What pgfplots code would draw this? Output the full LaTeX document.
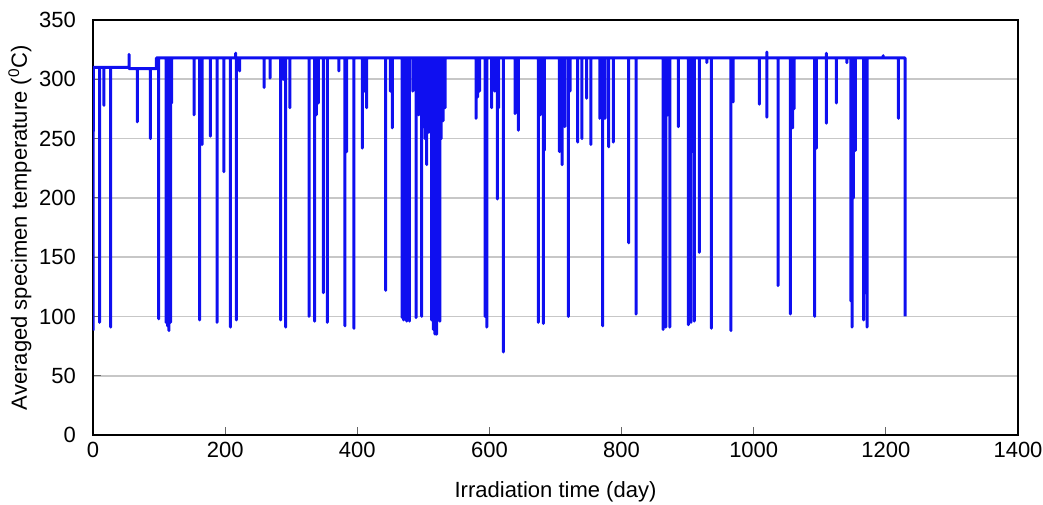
\documentclass[border=0pt]{standalone}
\usepackage{pgfplots}
\pgfplotsset{compat=1.18}
\usepackage{fontspec}
\setmainfont{Liberation Sans}
\definecolor{lineblue}{RGB}{15,15,240}
\begin{document}
\begin{tikzpicture}
\begin{axis}[
  at={(0,0)}, anchor=south west,
  scale only axis, width=462.5pt, height=207.5pt,
  xmin=0, xmax=1400, ymin=0, ymax=350,
  xtick={0,200,...,1400}, ytick={0,50,...,350},
  tick pos=left,
  major tick length=4pt,
  ymajorgrids,
  major grid style={line width=0.8pt, color=black!22},
  axis line style={line width=1.3pt},
  tick style={line width=0.5pt, black!60},
  /pgf/number format/assume math mode=true,
  /pgf/number format/1000 sep={},
  ticklabel style={font=\fontsize{11}{13}\selectfont},
  yticklabel style={xshift=-5pt},
  label style={font=\fontsize{11}{13}\selectfont},
  xlabel={Irradiation time (day)},
  ylabel={Averaged specimen temperature (\textsuperscript{0}C)},
  xlabel style={at={(axis description cs:0.5,0)}, anchor=center, yshift=-28.5pt},
  ylabel style={at={(axis description cs:-0.079,0.5)}, anchor=center, rotate=0},
  clip=true,
]
\addplot[lineblue, line width=1.5pt, line join=round, mark=none] coordinates {
(0,88)(0.5,310)
(10,310)(10,95)(10,310)
(16.6,310)(16.6,278)(16.6,310)
(26.8,310)(26.8,91)(26.8,310)
(54.5,310)(54.5,321)(54.5,309)
(67,309)(67,264)(67,309)
(87,309)(87,250)(87,309)
(96,309)(96,318)
(99.5,318)(99.5,98)(99.5,318)
(110.5,318)(110.5,95)(110.5,318)
(112,318)(112,200)(112,318)
(113,318)(113,92)(113,318)
(115,318)(115,88)(115,318)
(116,318)(116,150)(116,318)
(117.5,318)(117.5,95)(117.5,318)
(119,318)(119,280)(119,318)
(153,318)(153,270)(153,318)
(161.5,318)(161.5,97)(161.5,318)
(165,318)(165,245)(165,318)
(177.6,318)(177.6,252)(177.6,318)
(187.7,318)(187.7,95)(187.7,318)
(198,318)(198,222)(198,318)
(208,318)(208,91)(208,318)
(216,318)(216,322)(216,318)
(217,318)(217,97)(217,318)
(222,318)(222,307)(222,318)
(259,318)(259,293)(259,318)
(268,318)(268,301)(268,318)
(284,318)(284,97)(284,318)
(288,318)(288,300)(288,318)
(291.6,318)(291.6,91)(291.6,318)
(298,318)(298,276)(298,318)
(327,318)(327,100)(327,318)
(335.5,318)(335.5,96)(335.5,318)
(338,318)(338,270)(338,318)
(341,318)(341,280)(341,318)
(348.6,318)(348.6,120)(348.6,318)
(354.6,318)(354.6,95)(354.6,318)
(372,318)(372,307)(372,318)
(381.4,318)(381.4,92)(381.4,318)
(384,318)(384,239)(384,318)
(395,318)(395,90)(395,318)
(407.6,318)(407.6,242)(407.6,318)
(411,318)(411,290)(411,318)
(414,318)(414,276)(414,318)
(443,318)(443,122)(443,318)
(450,318)(450,290)(450,318)
(453,318)(453,259)(453,318)
(468,318)(468,99)(468,318)
(470,318)(470,97)(470,318)
(474.8,318)(474.8,96)(474.8,318)
(479,318)(479,96)(479,318)
(484,318)(484,290)(484,318)
(489,318)(489,99)(489,318)
(493,318)(493,270)(493,318)
(497.5,318)(497.5,100)(497.5,318)
(500,318)(500,260)(500,318)
(502.5,318)(502.5,250)(502.5,318)
(505,318)(505,228)(505,318)
(507,318)(507,255)(507,318)
(509,318)(509,288)(509,318)
(511,318)(511,255)(511,318)
(512.6,318)(512.6,97)(512.6,318)
(515,318)(515,89)(515,318)
(517.6,318)(517.6,85)(517.6,318)
(520,318)(520,85)(520,318)
(522,318)(522,250)(522,318)
(525,318)(525,96)(525,318)
(527,318)(527,250)(527,318)
(530,318)(530,265)(530,318)
(532.8,318)(532.8,276)(532.8,318)
(579.7,318)(579.7,267)(579.7,318)
(582,318)(582,285)(582,318)
(585,318)(585,290)(585,318)
(593.3,318)(593.3,100)(593.3,318)
(596,318)(596,91)(596,318)
(603.5,318)(603.5,276)(603.5,318)
(608,318)(608,290)(608,318)
(612,318)(612,199)(612,318)
(614,318)(614,276)(614,318)
(621,318)(621,70)(621,318)
(638.7,318)(638.7,271)(638.7,318)
(643.7,318)(643.7,257)(643.7,318)
(674,318)(674,95)(674,318)
(677,318)(677,270)(677,318)
(681.6,318)(681.6,94)(681.6,318)
(683,318)(683,240)(683,318)
(706,318)(706,239)(706,318)
(708,318)(708,260)(708,318)
(710,318)(710,228)(710,318)
(714,318)(714,260)(714,318)
(719.4,318)(719.4,100)(719.4,318)
(722,318)(722,290)(722,318)
(733.6,318)(733.6,247)(733.6,318)
(740,318)(740,250)(740,318)
(747,318)(747,284)(747,318)
(753.7,318)(753.7,245)(753.7,318)
(767,318)(767,267)(767,318)
(769,318)(769,280)(769,318)
(771.4,318)(771.4,92)(771.4,318)
(775,318)(775,267)(775,318)
(780.5,318)(780.5,243)(780.5,318)
(787.5,318)(787.5,247)(787.5,318)
(810.8,318)(810.8,162)(810.8,318)
(821.9,318)(821.9,102)(821.9,318)
(863,318)(863,89)(863,318)
(865,318)(865,260)(865,318)
(867,318)(867,91)(867,318)
(870,318)(870,270)(870,318)
(873,318)(873,91)(873,318)
(886,318)(886,260)(886,318)
(901,318)(901,93)(901,318)
(903,318)(903,200)(903,318)
(905,318)(905,95)(905,318)
(907,318)(907,239)(907,318)
(910,318)(910,96)(910,318)
(917.7,318)(917.7,154)(917.7,318)
(929,318)(929,314)(929,318)
(935.8,318)(935.8,90)(935.8,318)
(965.6,318)(965.6,88)(965.6,318)
(969,318)(969,281)(969,318)
(1008.5,318)(1008.5,279)(1008.5,318)
(1020,318)(1020,323)(1020,268)(1020,318)
(1036.8,318)(1036.8,126)(1036.8,318)
(1055.4,318)(1055.4,102)(1055.4,318)
(1059,318)(1059,259)(1059,318)
(1061,318)(1061,275)(1061,318)
(1092.3,318)(1092.3,100)(1092.3,318)
(1095,318)(1095,242)(1095,318)
(1110,318)(1110,322)(1110,263)(1110,318)
(1125,318)(1125,280)(1125,318)
(1141,318)(1141,314)(1141,318)
(1147,318)(1147,113)(1147,318)
(1148.8,318)(1148.8,91)(1148.8,318)
(1151,318)(1151,200)(1151,318)
(1154,318)(1154,240)(1154,318)
(1166.4,318)(1166.4,97)(1166.4,318)
(1169,318)(1169,120)(1169,318)
(1171.5,318)(1171.5,91)(1171.5,318)
(1196,318)(1196,320)(1196,318)
(1219,318)(1219,267)(1219,318)
(1229,318)(1229,100)
};
\end{axis}
\pgfresetboundingbox
\path[use as bounding box] (-46.5pt,-34.5pt) rectangle (475pt,217.5pt);
\end{tikzpicture}
\end{document}
